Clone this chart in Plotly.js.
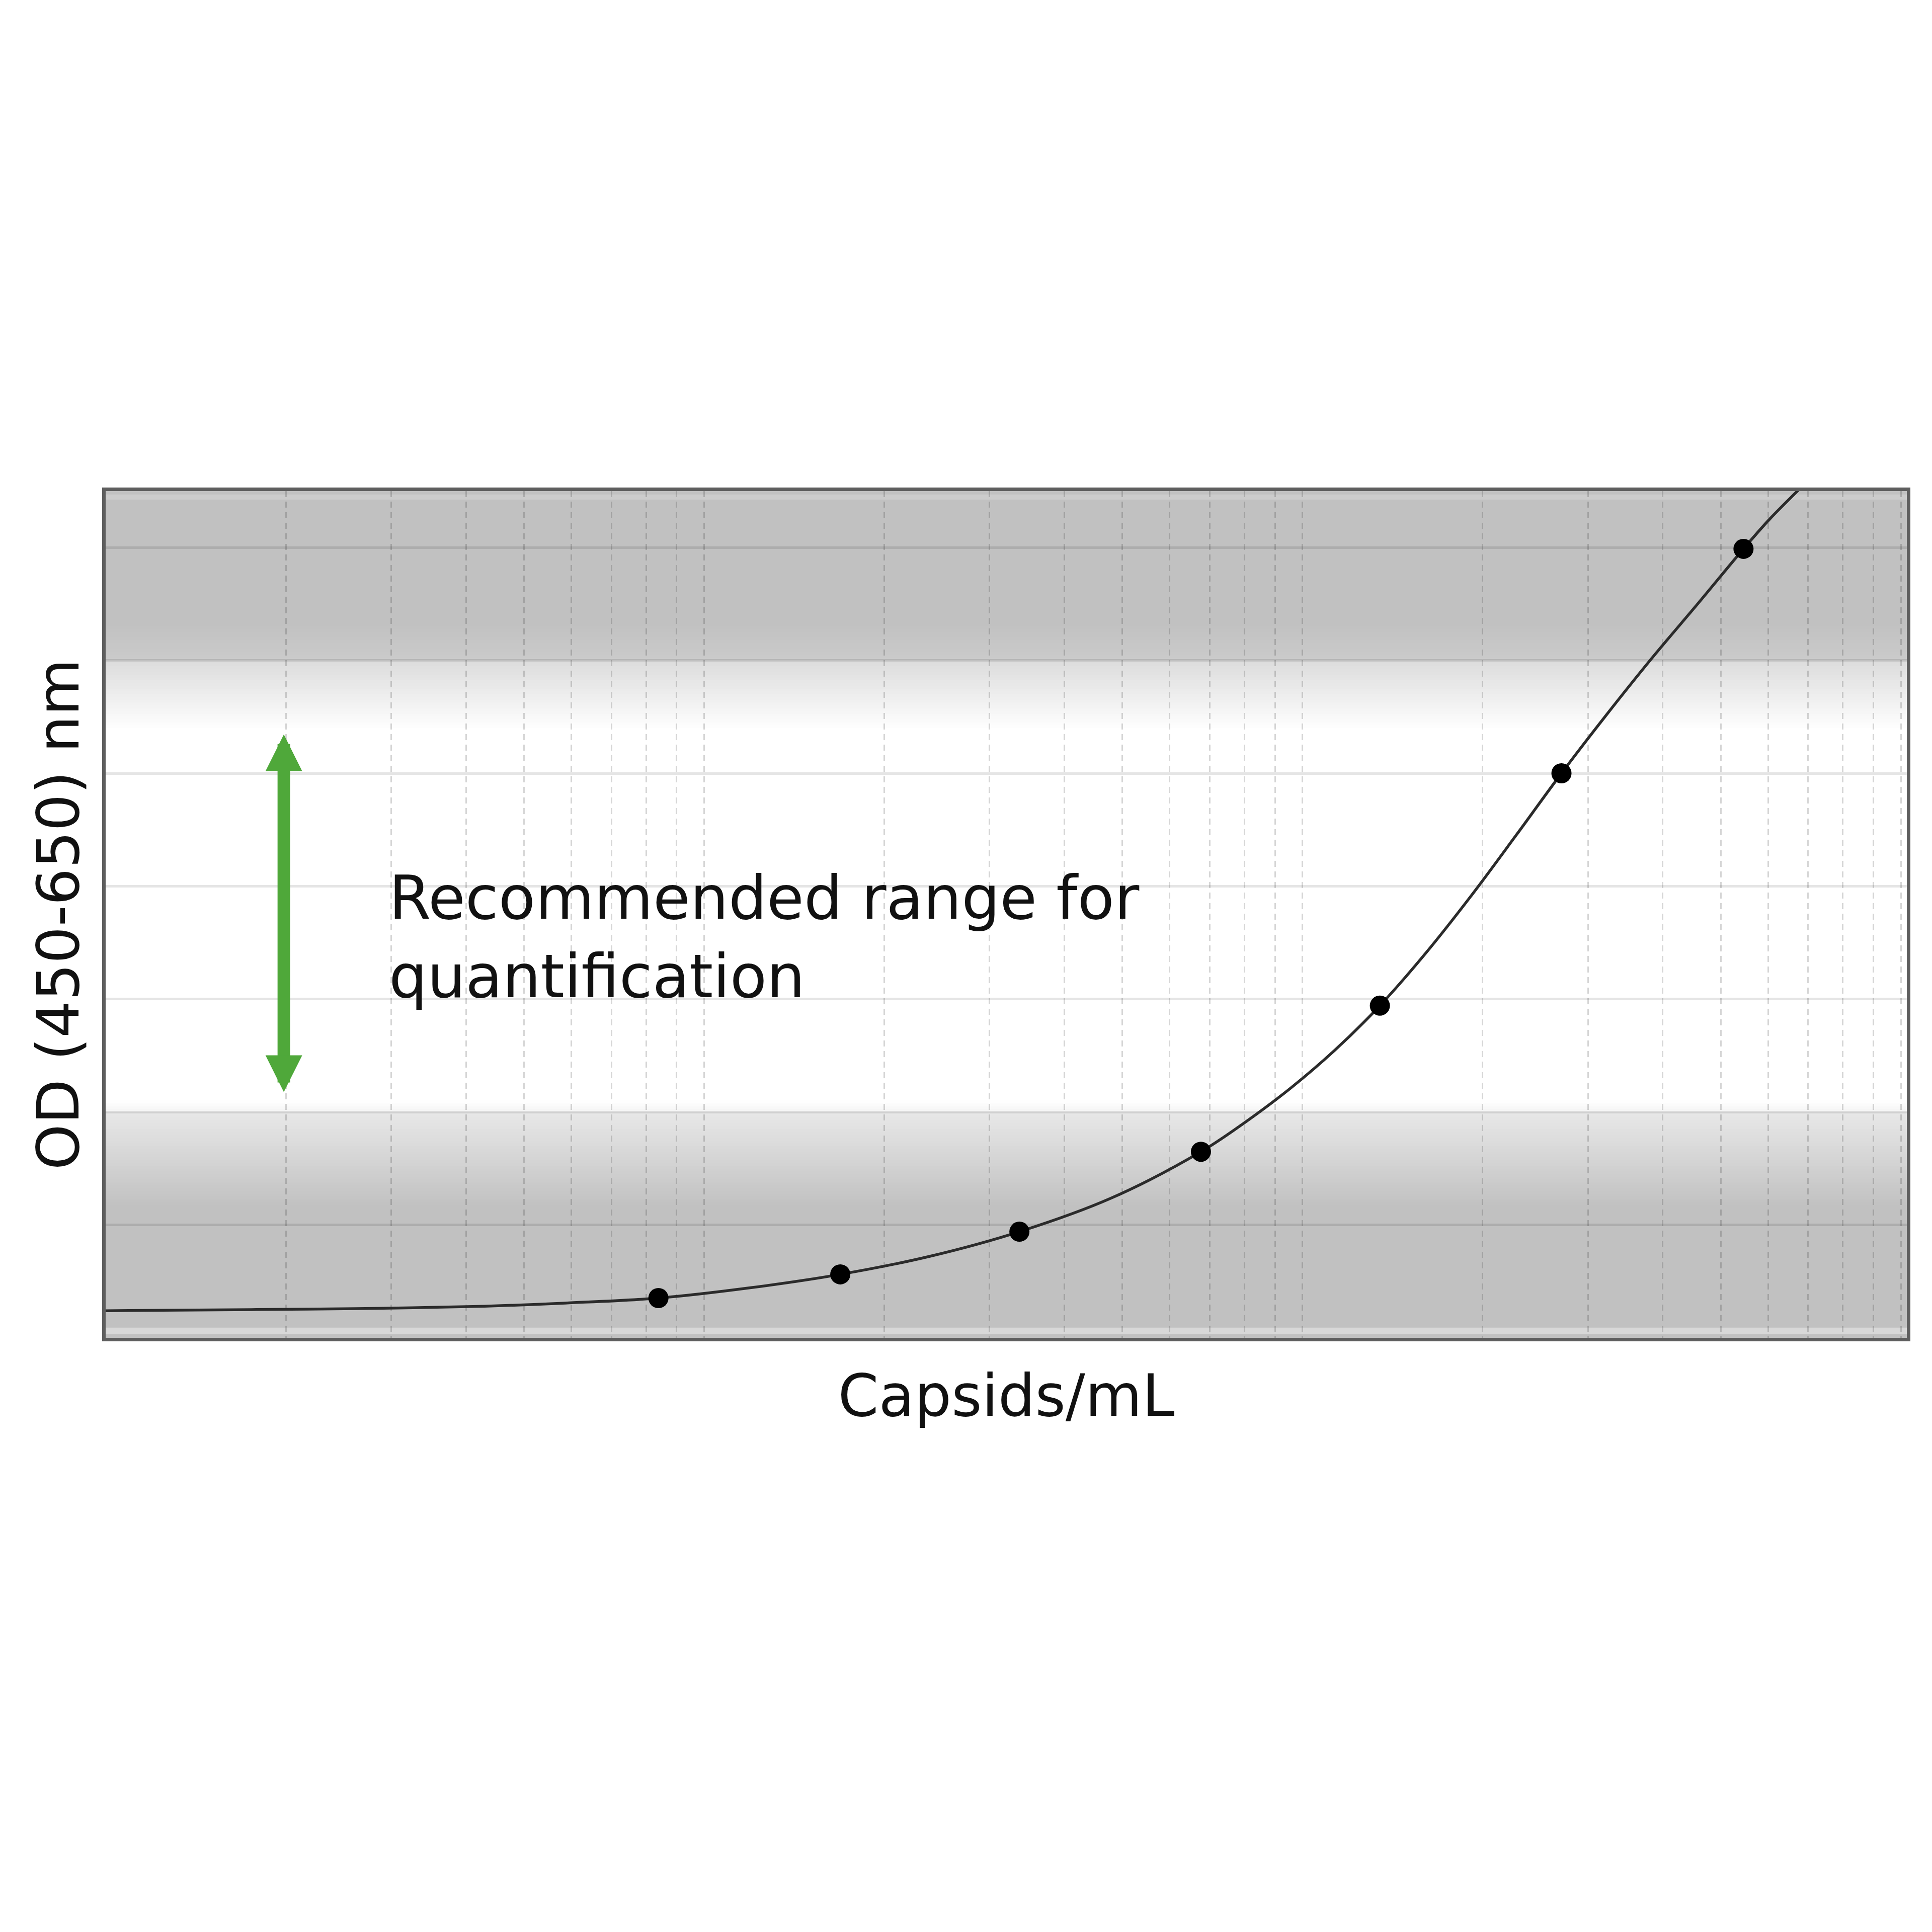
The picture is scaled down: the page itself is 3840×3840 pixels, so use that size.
<!DOCTYPE html>
<html>
<head>
<meta charset="utf-8">
<script src="https://cdn.plot.ly/plotly-3.0.1.min.js"></script>
<style>
  html, body { margin: 0; padding: 0; background: #ffffff; }
  #chart { width: 3840px; height: 3840px; }
</style>
</head>
<body>
<div id="chart"></div>
<script>
// ---- Data ----
const pointCapsids = [8.39e7, 1.689e8, 3.365e8, 6.766e8, 1.347e9, 2.709e9, 5.458e9];
const pointOD      = [0.176, 0.281, 0.470, 0.824, 1.471, 2.500, 3.494];

const curveCapsids = [1.0e7, 1.753e7, 2.62e7, 4.30e7, 5.87e7, 8.39e7, 1.190e8, 1.689e8, 2.384e8,
                      3.365e8, 4.775e8, 6.766e8, 8.035e8, 9.546e8, 1.134e9, 1.347e9, 1.603e9,
                      1.912e9, 2.276e9, 2.709e9, 3.230e9, 3.845e9, 4.585e9, 5.458e9, 6.047e9, 7.058e9];
const curveOD      = [0.120, 0.125, 0.129, 0.140, 0.154, 0.176, 0.221, 0.281, 0.361,
                      0.470, 0.617, 0.824, 0.956, 1.105, 1.275, 1.471, 1.700,
                      1.956, 2.226, 2.500, 2.763, 3.013, 3.253, 3.494, 3.628, 3.806];

const rangeCapsids = [1.985e7];          // x position of the green double arrow
const rangeOD      = [1.085, 2.672];     // recommended quantification range (low, high)

const xTitleText = 'Capsids/mL';
const yTitleText = 'OD (450-650) nm';
const rangeLabel = 'Recommended range for<br>quantification';
const rangeLabelCapsids = [2.96e7];
const rangeLabelOD = [1.775];

// ---- Styling ----
const FONT = 'DejaVu Sans';
const GRAY = 193;
// background shading stops (OD, gray level)
const shadeStops = [[0, GRAY], [0.58, GRAY], [1.0, 232], [1.0, 244], [1.05, 255],
                    [2.69, 255], [3.0, 220], [3.0, 203], [3.16, GRAY], [3.75, GRAY]];

function shadeAt(y) {
  for (let i = 0; i < shadeStops.length - 1; i++) {
    const a = shadeStops[i], b = shadeStops[i + 1];
    if (y >= a[0] && y <= b[0] && b[0] > a[0]) {
      const t = (y - a[0]) / (b[0] - a[0]);
      return a[1] + (b[1] - a[1]) * t;
    }
  }
  return 255;
}

const shapes = [];
const step = 0.0125;
for (let k = 0; k < 300; k++) {
  const y0 = k * step, y1 = (k + 1) * step;
  const g = Math.round(shadeAt((y0 + y1) / 2));
  if (g >= 255) continue;
  shapes.push({
    type: 'rect', xref: 'paper', yref: 'y', x0: 0, x1: 1, y0: y0, y1: y1 + 0.002,
    fillcolor: `rgb(${g},${g},${g})`, line: { width: 0 }, layer: 'below'
  });
}
// thin lighter strips along the top and bottom edges
shapes.push({ type: 'rect', xref: 'paper', yref: 'y', x0: 0, x1: 1, y0: 0.016, y1: 0.045,
  fillcolor: 'rgb(216,216,216)', line: { width: 0 }, layer: 'below' });
shapes.push({ type: 'rect', xref: 'paper', yref: 'y', x0: 0, x1: 1, y0: 3.712, y1: 3.735,
  fillcolor: 'rgb(204,204,204)', line: { width: 0 }, layer: 'below' });

const traces = [
  {
    type: 'scatter', mode: 'lines', x: curveCapsids, y: curveOD,
    line: { color: '#2b2b2b', width: 5.5, shape: 'spline', smoothing: 1 },
    hoverinfo: 'skip', showlegend: false
  },
  {
    type: 'scatter', mode: 'markers', x: pointCapsids, y: pointOD,
    marker: { color: '#000000', size: 40 },
    showlegend: false
  }
];

const annotations = [
  {
    xref: 'x', yref: 'y', axref: 'x', ayref: 'y',
    x: Math.log10(rangeCapsids[0]), y: rangeOD[1],
    ax: Math.log10(rangeCapsids[0]), ay: rangeOD[0],
    text: '', showarrow: true, arrowside: 'end+start',
    arrowhead: 2, startarrowhead: 2,
    arrowsize: 0.584, startarrowsize: 0.584,
    arrowwidth: 25, arrowcolor: '#4fa83a'
  },
  {
    xref: 'x', yref: 'y',
    x: Math.log10(rangeLabelCapsids[0]), y: rangeLabelOD[0],
    xanchor: 'left', yanchor: 'middle', align: 'left',
    text: rangeLabel, showarrow: false,
    font: { family: FONT, size: 120, color: '#111111' }
  }
];

const axisLine = { showline: true, mirror: true, linecolor: '#5e5e5e', linewidth: 7 };

const layout = {
  width: 3840, height: 3840,
  margin: { l: 210, r: 50, t: 976, b: 1181, pad: 0 },
  paper_bgcolor: '#ffffff', plot_bgcolor: '#ffffff',
  showlegend: false,
  xaxis: Object.assign({
    type: 'log', range: [7, 10.01], dtick: 'D1',
    showgrid: true, gridcolor: 'rgba(0,0,0,0.16)', gridwidth: 3, griddash: '12px,9px',
    showticklabels: false, ticks: '', zeroline: false, fixedrange: true,
    title: { text: xTitleText, font: { family: FONT, size: 116, color: '#111111' }, standoff: 70 }
  }, axisLine),
  yaxis: Object.assign({
    range: [0, 3.75], dtick: 0.5, tick0: 0,
    showgrid: true, gridcolor: 'rgba(0,0,0,0.10)', gridwidth: 5,
    showticklabels: false, ticks: '', zeroline: false, fixedrange: true,
    title: { text: yTitleText, font: { family: FONT, size: 116, color: '#111111' }, standoff: 10 }
  }, axisLine),
  shapes: shapes,
  annotations: annotations
};

Plotly.newPlot('chart', traces, layout, { displayModeBar: false, staticPlot: true });
</script>
</body>
</html>
